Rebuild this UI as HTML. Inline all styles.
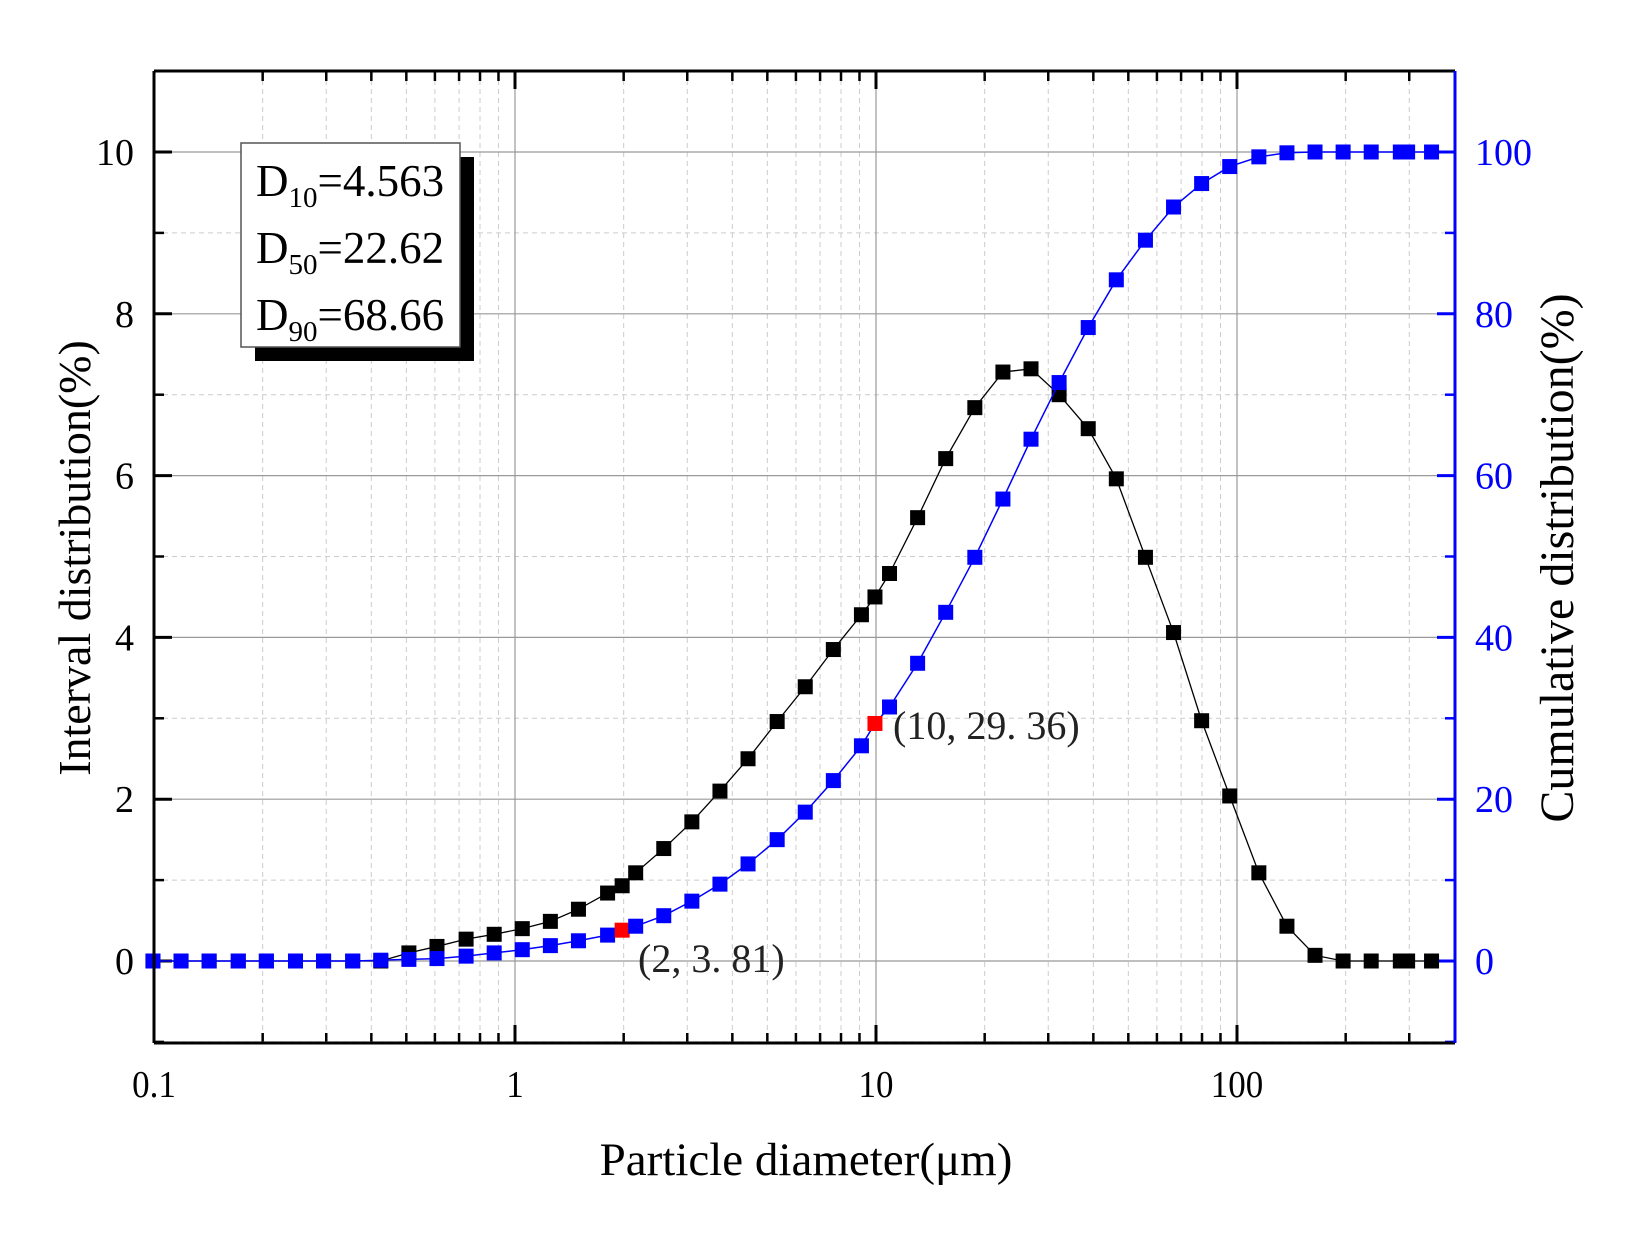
<!DOCTYPE html>
<html><head><meta charset="utf-8"><style>
html,body{margin:0;padding:0;background:#fff;}
svg{display:block;font-family:"Liberation Serif",serif;}
</style></head><body>
<svg id="s" width="1633" height="1241" viewBox="0 0 1633 1241" xmlns="http://www.w3.org/2000/svg"></svg>
<script>
const L=154,R=1455,T=71,B=1043,DEC=361,Y0=961,YU=80.9;
const X=v=>L+(Math.log10(v)+1)*DEC;
const Y=v=>Y0-v*YU;
let s='';
for(let d=-1;d<=2;d++)for(let m=2;m<=9;m++){const v=m*Math.pow(10,d);if(v>396)continue;const x=X(v);
s+=`<line x1="${x}" y1="${T}" x2="${x}" y2="${B}" stroke="#ccc" stroke-width="1" stroke-dasharray="5,4"/>`;
s+=`<line x1="${x}" y1="${B}" x2="${x}" y2="${B-10}" stroke="#000" stroke-width="2.5"/><line x1="${x}" y1="${T}" x2="${x}" y2="${T+10}" stroke="#000" stroke-width="2.5"/>`;}
for(let v=-1;v<=11;v+=2){const y=Y(v);s+=`<line x1="${L}" y1="${y}" x2="${R}" y2="${y}" stroke="#ccc" stroke-width="1" stroke-dasharray="5,4"/>`;
s+=`<line x1="${L}" y1="${y}" x2="${L+10}" y2="${y}" stroke="#000" stroke-width="2.5"/><line x1="${R}" y1="${y}" x2="${R-10}" y2="${y}" stroke="#00f" stroke-width="2.5"/>`;}
for(let d=0;d<=2;d++){const x=X(Math.pow(10,d));s+=`<line x1="${x}" y1="${T}" x2="${x}" y2="${B}" stroke="#999" stroke-width="1.2"/>`;}
for(let d=-1;d<=2;d++){const x=X(Math.pow(10,d));s+=`<line x1="${x}" y1="${B}" x2="${x}" y2="${B-18}" stroke="#000" stroke-width="3"/><line x1="${x}" y1="${T}" x2="${x}" y2="${T+18}" stroke="#000" stroke-width="3"/>`;
s+=`<text x="${x}" y="${B+54}" font-size="38" text-anchor="middle" transform="translate(${x},0) scale(0.92,1) translate(${-x},0)">${[0.1,1,10,100][d+1]}</text>`;}
for(let v=0;v<=10;v+=2){const y=Y(v);s+=`<line x1="${L}" y1="${y}" x2="${R}" y2="${y}" stroke="#999" stroke-width="1.2"/>`;
s+=`<line x1="${L}" y1="${y}" x2="${L+18}" y2="${y}" stroke="#000" stroke-width="3"/><line x1="${R}" y1="${y}" x2="${R-18}" y2="${y}" stroke="#00f" stroke-width="3"/>`;
s+=`<text x="${L-20}" y="${y+13}" font-size="38" text-anchor="end">${v}</text><text x="${R+20}" y="${y+13}" font-size="38" fill="#00f">${v*10}</text>`;}
const ax=dx=>154+(dx-147)*361/347;
const blk=[[146,0],[173,0],[200,0],[228,0],[255,0],[283,0],[310,0],[338,0],[365,0],[392,.1],[419,.18],[447,.27],[474,.33],[501,.4],[528,.49],[555,.64],[583,.84],[597,.93],[610,1.09],[637,1.39],[664,1.72],[691,2.1],[718,2.5],[746,2.96],[773,3.39],[800,3.85],[827,4.28],[840,4.5],[854,4.79],[881,5.48],[908,6.21],[936,6.84],[963,7.28],[990,7.32],[1017,7.0],[1045,6.58],[1072,5.96],[1100,4.99],[1127,4.06],[1154,2.97],[1181,2.04],[1209,1.09],[1236,.43],[1263,.07],[1290,0],[1317,0],[1345,0],[1352,0],[1375,0]];
const blu=[[146,0],[173,0],[200,0],[228,0],[255,0],[283,0],[310,0],[338,0],[365,.1],[392,.2],[419,.3],[447,.6],[474,1.0],[501,1.4],[528,1.9],[555,2.5],[583,3.2],[597,3.81],[610,4.3],[637,5.6],[664,7.4],[691,9.5],[718,12],[746,15],[773,18.4],[800,22.3],[827,26.6],[840,29.36],[854,31.4],[881,36.8],[908,43.1],[936,49.9],[963,57.1],[990,64.5],[1017,71.5],[1045,78.3],[1072,84.2],[1100,89.1],[1127,93.2],[1154,96.1],[1181,98.2],[1209,99.4],[1236,99.9],[1263,100],[1290,100],[1317,100],[1345,100],[1352,100],[1375,100]];
const M=15;
s+=`<polyline fill="none" stroke="#000" stroke-width="1.3" points="${blk.map(p=>ax(p[0])+','+Y(p[1])).join(' ')}"/>`;
blk.forEach(p=>{s+=`<rect x="${ax(p[0])-M/2}" y="${Y(p[1])-M/2}" width="${M}" height="${M}" fill="#000"/>`;});
s+=`<polyline fill="none" stroke="#00f" stroke-width="1.5" points="${blu.map(p=>ax(p[0])+','+Y(p[1]/10)).join(' ')}"/>`;
blu.forEach(p=>{const red=(p[0]==597||p[0]==840);s+=`<rect x="${ax(p[0])-M/2}" y="${Y(p[1]/10)-M/2}" width="${M}" height="${M}" fill="${red?'#f00':'#00f'}"/>`;});
s+=`<line x1="${L}" y1="${T}" x2="${R}" y2="${T}" stroke="#000" stroke-width="3"/>`;
s+=`<line x1="${L}" y1="${B}" x2="${R}" y2="${B}" stroke="#000" stroke-width="3"/>`;
s+=`<line x1="${L}" y1="${T}" x2="${L}" y2="${B}" stroke="#000" stroke-width="3"/>`;
s+=`<line x1="${R}" y1="${T}" x2="${R}" y2="${B}" stroke="#00f" stroke-width="3"/>`;
s+=`<text x="893" y="739" font-size="40" fill="#222">(10, 29. 36)</text>`;
s+=`<text x="638" y="972" font-size="40" fill="#222">(2, 3. 81)</text>`;
s+=`<rect x="255" y="157" width="219" height="204" fill="#000"/>`;
s+=`<rect x="241" y="143" width="219" height="204" fill="#fff" stroke="#555" stroke-width="1.5"/>`;
[[196,'10','4.563'],[263,'50','22.62'],[330,'90','68.66']].forEach(r=>{
s+=`<text x="256" y="${r[0]}" font-size="45">D<tspan font-size="29" dy="11">${r[1]}</tspan><tspan dy="-11">=${r[2]}</tspan></text>`;});
s+=`<text x="806" y="1175" font-size="47" text-anchor="middle">Particle diameter(μm)</text>`;
s+=`<text transform="translate(90,558) rotate(-90)" font-size="46" text-anchor="middle">Interval distribution(%)</text>`;
s+=`<text transform="translate(1573,558) rotate(-90)" font-size="48" text-anchor="middle">Cumulative distribution(%)</text>`;
document.getElementById('s').innerHTML=s;
</script>
</body></html>
